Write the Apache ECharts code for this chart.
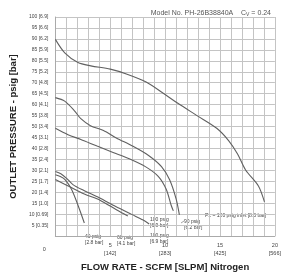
<!DOCTYPE html>
<html>
<head>
<meta charset="utf-8">
<script src="https://cdn.jsdelivr.net/npm/echarts@6/dist/echarts.min.js"></script>
<style>
  html, body { margin: 0; padding: 0; background: #fff; }
  #chart { width: 284px; height: 277px; }
</style>
</head>
<body>
<div id="chart"></div>
<script>
// tick labels
var xTicks = [0, 5, 10, 15, 20];
var xTickSlpm = ['', '142', '283', '425', '566'];
var yTicks = [5, 10, 15, 20, 25, 30, 35, 40, 45, 50, 55, 60, 65, 70, 75, 80, 85, 90, 95, 100];
var yTickBar = ['0.35', '0.69', '1.0', '1.4', '1.7', '2.1', '2.4', '2.8', '3.1', '3.4',
  '3.8', '4.1', '4.5', '4.8', '5.2', '5.5', '5.9', '6.2', '6.6', '6.9'];

// curves: flow (SCFM) / outlet pressure (psig)
var flow120 = [0, 0.88, 2.06, 3.23, 5.0, 6.47, 8.23, 10.0, 11.16, 12.9, 14.7, 15.8, 16.6, 17.33, 18.5, 19.05];
var psig120 = [89.8, 83.5, 79.2, 77.7, 76.2, 74.0, 70.4, 64.6, 60.6, 55.0, 49.2, 43.5, 37.5, 30.2, 22.9, 15.6];

var flow90 = [0, 0.85, 1.74, 2.32, 3.2, 4.38, 5.55, 7.02, 8.49, 9.67, 10.4, 11.0, 11.3];
var psig90 = [63.2, 61.6, 57.2, 53.6, 50.4, 48.2, 44.8, 41.1, 36.8, 31.7, 25.8, 17.0, 9.7];

var flow100a = [0, 1.15, 2.32, 3.8, 5.26, 6.73, 8.2, 9.37, 10.1, 10.55, 10.75];
var psig100a = [49.2, 46.3, 44.1, 41.1, 38.2, 35.3, 31.7, 27.3, 21.4, 14.1, 11.5];

var flow100b = [0, 0.5, 1.0, 1.6, 2.6, 4.0, 5.5, 7.0, 8.0, 8.55];
var psig100b = [29.5, 28.5, 26.5, 23.5, 20.8, 17.5, 13.5, 9.8, 7.3, 5.5];

var flow60 = [0, 1.17, 2.64, 4.1, 5.6, 6.6];
var psig60 = [25.8, 22.9, 19.2, 16.3, 11.9, 9.2];

var flow40 = [0, 0.45, 0.88, 1.47, 2.06, 2.64];
var psig40 = [28, 27.2, 25.8, 21.4, 14.1, 6.0];

function pairs(xs, ys) {
  return xs.map(function (x, i) { return [x, ys[i]]; });
}

function curve(xs, ys) {
  return {
    type: 'line',
    smooth: 0.3,
    symbol: 'none',
    lineStyle: { color: '#606060', width: 1.1 },
    data: pairs(xs, ys)
  };
}

var chart = echarts.init(document.getElementById('chart'));
var font = 'Liberation Sans, Arial, sans-serif';
var small = { fontFamily: font, fontSize: 5, fill: '#444', lineHeight: 6 };

chart.setOption({
  animation: false,
  grid: { left: 53, right: 4, top: 17, bottom: 31.5 },
  title: {
    text: 'Model No. PH-26B38840A    C{sub|V} = 0.24',
    right: 8,
    top: 4,
    textStyle: {
      fontFamily: font, fontSize: 7, fontWeight: 'normal', color: '#555',
      rich: { sub: { fontSize: 5, verticalAlign: 'bottom', padding: [3, 0, 0, 0], color: '#555' } }
    }
  },
  xAxis: {
    type: 'value',
    min: 0,
    max: 20,
    interval: 1,
    name: 'FLOW RATE - SCFM [SLPM] Nitrogen',
    nameLocation: 'middle',
    nameGap: 22,
    nameTextStyle: { fontFamily: font, fontSize: 9.5, fontWeight: 'bold', color: '#222' },
    axisLine: { lineStyle: { color: '#aaa', width: 1 } },
    axisTick: { show: false },
    splitLine: { lineStyle: { color: '#c4c4c4', width: 1 } },
    axisLabel: {
      margin: 5,
      fontFamily: font,
      fontSize: 5.5,
      lineHeight: 8,
      color: '#444',
      formatter: function (v) {
        var i = xTicks.indexOf(v);
        if (i < 0) return '';
        if (v === 0) return '{z|0}';
        return v + '\n[' + xTickSlpm[i] + ']';
      },
      rich: { z: { fontSize: 5.5, color: '#444', padding: [9, 22, 0, 0] } }
    }
  },
  yAxis: {
    type: 'value',
    min: 0,
    max: 100,
    interval: 5,
    name: 'OUTLET PRESSURE - psig [bar]',
    nameLocation: 'middle',
    nameGap: 30,
    nameTextStyle: { fontFamily: font, fontSize: 9.5, fontWeight: 'bold', color: '#222' },
    axisLine: { show: true, lineStyle: { color: '#aaa', width: 1 } },
    axisTick: { show: false },
    splitLine: { lineStyle: { color: '#c4c4c4', width: 1 } },
    axisLabel: {
      margin: 7,
      fontFamily: font,
      fontSize: 5,
      color: '#444',
      formatter: function (v) {
        var i = yTicks.indexOf(v);
        if (i < 0) return '';
        return v + ' [' + yTickBar[i] + ']';
      }
    }
  },
  series: [
    curve(flow120, psig120),
    curve(flow90, psig90),
    curve(flow100a, psig100a),
    curve(flow100b, psig100b),
    curve(flow60, psig60),
    curve(flow40, psig40)
  ],
  graphic: [
    { type: 'text', left: 205, top: 213, style: Object.assign({ text: 'P1 = 120 psig inlet [8.3 bar]' }, small) },
    { type: 'line', shape: { x1: 181, y1: 223, x2: 184, y2: 221 }, style: { stroke: '#666', lineWidth: 0.6 } },
    { type: 'text', left: 184, top: 219, style: Object.assign({ text: '90 psig\n[6.2 bar]' }, small) },
    { type: 'text', left: 150, top: 217, style: Object.assign({ text: '100 psig\n[6.9 bar]' }, small) },
    { type: 'text', left: 150, top: 233, style: Object.assign({ text: '100 psig\n[6.9 bar]' }, small) },
    { type: 'text', left: 117, top: 235, style: Object.assign({ text: '60 psig\n[4.1 bar]' }, small) },
    { type: 'text', left: 85, top: 234, style: Object.assign({ text: '40 psig\n[2.8 bar]' }, small) }
  ]
});
</script>
</body>
</html>
